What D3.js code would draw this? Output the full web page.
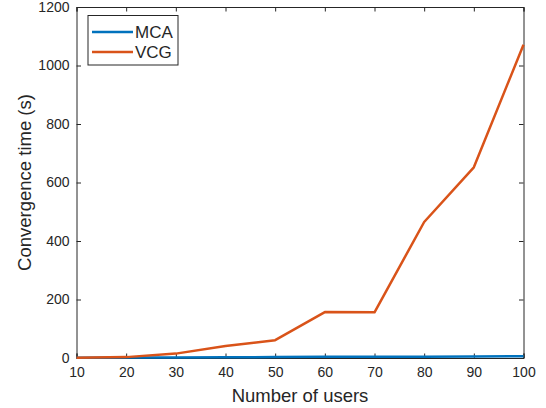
<!DOCTYPE html>
<html>
<head>
<meta charset="utf-8">
<script src="https://cdn.jsdelivr.net/npm/d3@7"></script>
<style>
  html, body { margin: 0; padding: 0; background: #fff; }
  svg { display: block; }
  text { font-family: "Liberation Sans", Arial, Helvetica, sans-serif; fill: #262626; }
</style>
</head>
<body>
<svg id="chart" width="546" height="408"></svg>
<script>
// Convergence time versus number of users for two allocation schemes
const users = [10, 20, 30, 40, 50, 60, 70, 80, 90, 100];
const mcaTime = [1, 1.5, 2, 2.5, 3, 4, 4, 4.5, 5, 6];
const vcgTime = [1, 3, 15, 41, 61, 157, 156, 465, 652, 1071];
const xTicks = [10, 20, 30, 40, 50, 60, 70, 80, 90, 100];
const yTicks = [0, 200, 400, 600, 800, 1000, 1200];
const seriesNames = ["MCA", "VCG"];
const seriesColors = ["#0072BD", "#D95319"];

const svg = d3.select("#chart");
const plotL = 76.5, plotR = 523.5, plotT = 7, plotB = 358;
const axisColor = "#262626";
const tickLen = 4.5;

const x = d3.scaleLinear().domain([10, 100]).range([plotL, plotR]);
const y = d3.scaleLinear().domain([0, 1200]).range([plotB, plotT]);

// Bottom axis with labels, ticks pointing inward
const xAxis = svg.append("g")
  .attr("transform", `translate(0,${plotB})`)
  .call(d3.axisBottom(x).tickValues(xTicks).tickSize(-tickLen).tickPadding(9).tickFormat(d3.format("d")));
xAxis.selectAll("text").style("font-size", "14px");

// Top axis (ticks only)
svg.append("g")
  .attr("transform", `translate(0,${plotT})`)
  .call(d3.axisTop(x).tickValues(xTicks).tickSize(-tickLen).tickFormat(""));

// Left axis with labels
const yAxis = svg.append("g")
  .attr("transform", `translate(${plotL},0)`)
  .call(d3.axisLeft(y).tickValues(yTicks).tickSize(-tickLen).tickPadding(7).tickFormat(d3.format("d")));
yAxis.selectAll("text").style("font-size", "14px");

// Right axis (ticks only)
svg.append("g")
  .attr("transform", `translate(${plotR},0)`)
  .call(d3.axisRight(y).tickValues(yTicks).tickSize(-tickLen).tickFormat(""));

svg.selectAll(".domain, .tick line").attr("stroke", axisColor).attr("stroke-width", 1);
svg.selectAll(".tick text").attr("fill", axisColor);

// Series lines
const line = d3.line().x((d, i) => x(users[i])).y(d => y(d));
[mcaTime, vcgTime].forEach((vals, k) => {
  svg.append("path")
    .datum(vals)
    .attr("fill", "none")
    .attr("stroke", seriesColors[k])
    .attr("stroke-width", 2.5)
    .attr("stroke-linejoin", "round")
    .attr("d", line);
});

// Axis titles
svg.append("text")
  .attr("x", (plotL + plotR) / 2)
  .attr("y", 401.5)
  .attr("text-anchor", "middle")
  .style("font-size", "18.5px")
  .text("Number of users");

svg.append("text")
  .attr("transform", `translate(31,${(plotT + plotB) / 2}) rotate(-90)`)
  .attr("text-anchor", "middle")
  .style("font-size", "18.5px")
  .text("Convergence time (s)");

// Legend
const legend = svg.append("g");
legend.append("rect")
  .attr("x", 88).attr("y", 15.5).attr("width", 90).attr("height", 49.5)
  .attr("fill", "#fff").attr("stroke", axisColor).attr("stroke-width", 1);
seriesNames.forEach((name, k) => {
  const ly = 32 + k * 20;
  legend.append("line")
    .attr("x1", 92).attr("x2", 133).attr("y1", ly).attr("y2", ly)
    .attr("stroke", seriesColors[k]).attr("stroke-width", 2.5);
  legend.append("text")
    .attr("x", 135).attr("y", ly + 6)
    .style("font-size", "17px")
    .text(name);
});
</script>
</body>
</html>
